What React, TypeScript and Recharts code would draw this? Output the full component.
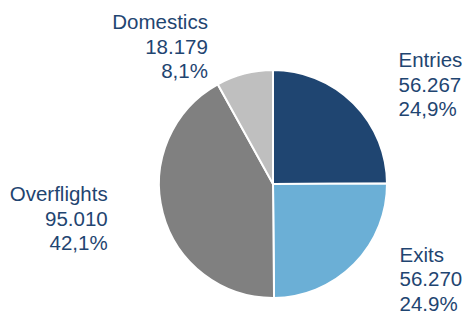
import { PieChart, Pie, Cell } from 'recharts';

const categories = ['Entries', 'Exits', 'Overflights', 'Domestics'];
const flights = [56267, 56270, 95010, 18179];
const shareLabels = ['24,9%', '24.9%', '42,1%', '8,1%'];
const colors = ['#1f4571', '#6bafd6', '#808080', '#bfbfbf'];

const data = categories.map((name, i) => ({ name, value: flights[i], share: shareLabels[i] }));

// small per-label tweaks so the text blocks sit where the original ones do
const nudge: Record<string, [number, number]> = {
  Entries: [-1, 3],
  Exits: [-1, -12],
  Overflights: [0, -6],
  Domestics: [-6, 3],
};

const fmt = (n: number) => String(n).replace(/\B(?=(\d{3})+(?!\d))/g, '.');

const RAD = Math.PI / 180;
const LINE = 24.5;

function renderLabel(props: any) {
  const { cx, cy, midAngle, outerRadius, index } = props;
  const d = data[index];
  const r = outerRadius * 1.3;
  const cos = Math.cos(-midAngle * RAD);
  const sin = Math.sin(-midAngle * RAD);
  const right = cos >= 0;
  const [nx, ny] = nudge[d.name] || [0, 0];
  const x = cx + r * cos + (right ? 22 : -22) + nx;
  const y = cy + r * sin + 2 + ny;
  return (
    <text
      x={x}
      y={y}
      fill="#1f4571"
      fontSize={20.5}
      fontFamily="'Liberation Sans', Arial, sans-serif"
      textAnchor={right ? 'start' : 'end'}
      dominantBaseline="central"
    >
      <tspan x={x} dy={-LINE}>{d.name}</tspan>
      <tspan x={x} dy={LINE}>{fmt(d.value)}</tspan>
      <tspan x={x} dy={LINE}>{d.share}</tspan>
    </text>
  );
}

export default function App() {
  return (
    <div style={{ position: 'absolute', left: 0, top: 0, width: 462, height: 311, background: '#fff' }}>
      <PieChart width={462} height={311} margin={{ top: 0, right: 0, bottom: 0, left: 0 }}>
        <Pie
          data={data}
          dataKey="value"
          nameKey="name"
          cx={273}
          cy={184}
          outerRadius={114}
          startAngle={90}
          endAngle={-270}
          stroke="#fff"
          strokeWidth={2}
          label={renderLabel}
          labelLine={false}
          isAnimationActive={false}
        >
          {data.map((d, i) => (
            <Cell key={d.name} fill={colors[i]} />
          ))}
        </Pie>
      </PieChart>
    </div>
  );
}
